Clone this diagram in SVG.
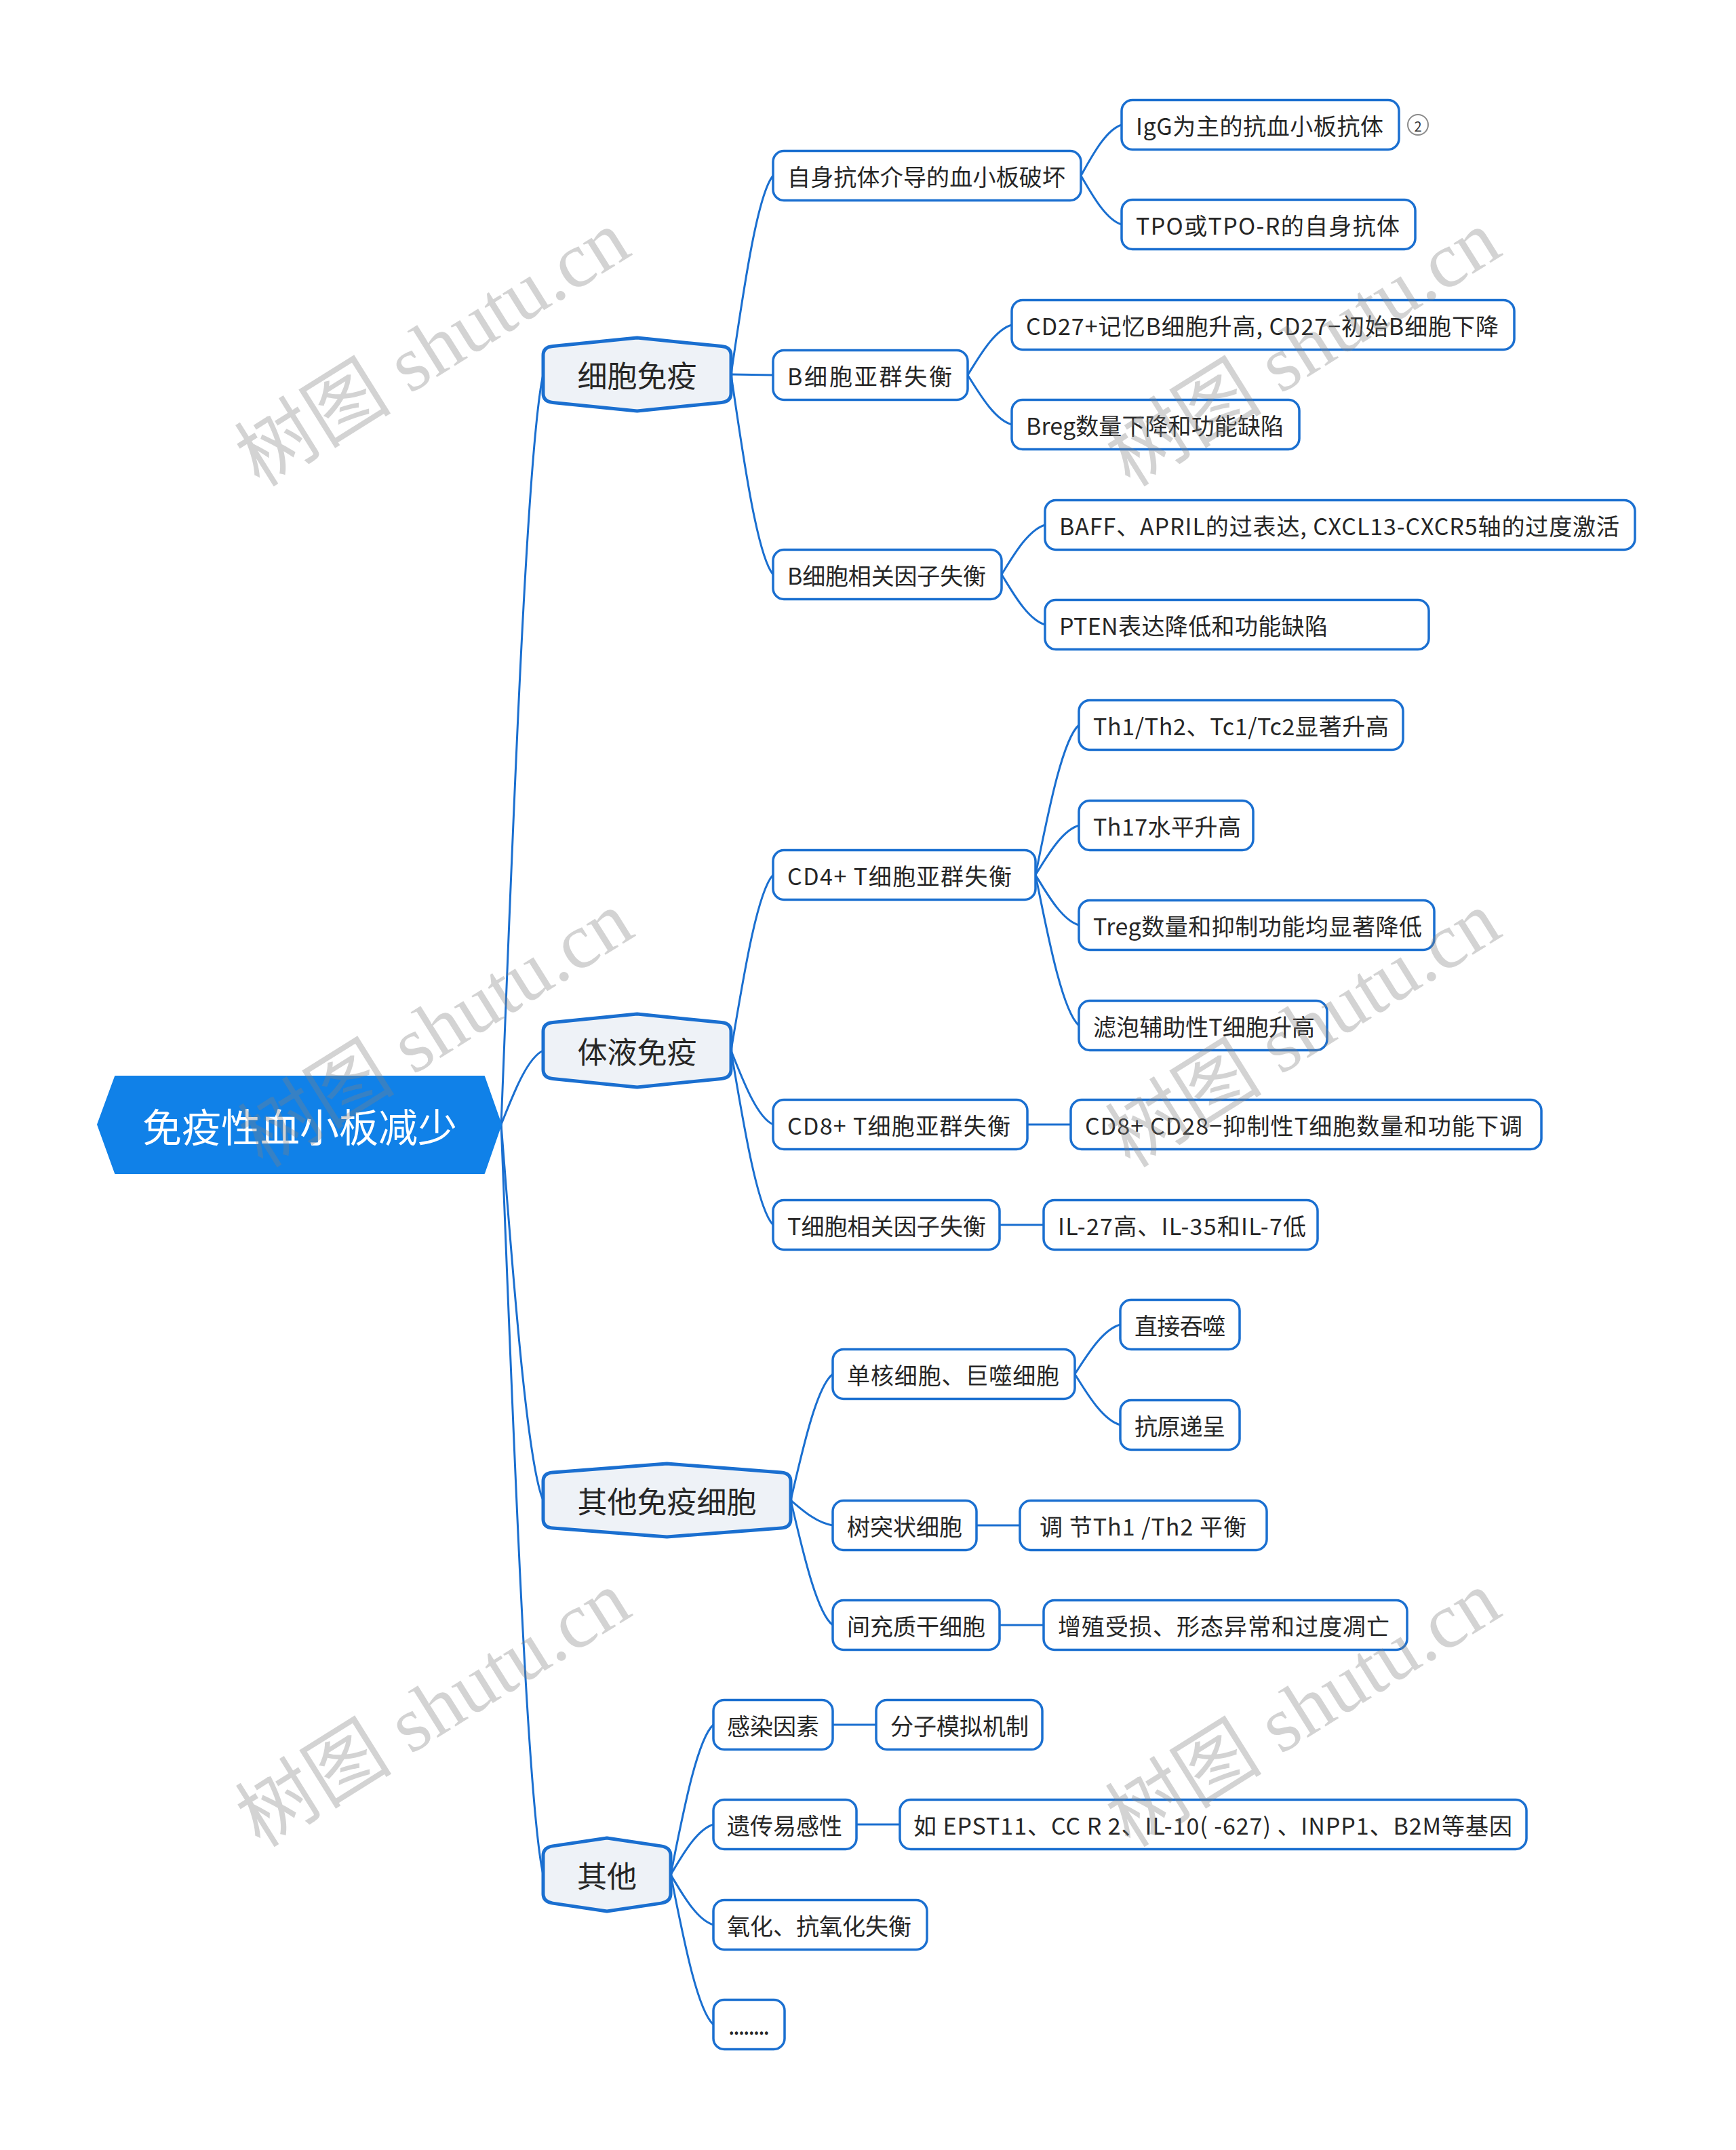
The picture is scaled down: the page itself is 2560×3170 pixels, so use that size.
<svg xmlns="http://www.w3.org/2000/svg" width="2560" height="3170" viewBox="0 0 2560 3170">
<style>
.bg{fill:#ffffff}
.ln{fill:none;stroke:#1a6fd0;stroke-width:3;stroke-linecap:round}
.root{fill:#1081e8;stroke:#1081e8;stroke-width:2;stroke-linejoin:round}
.hex{fill:#eef2f7;stroke:#1a6fd0;stroke-width:5;stroke-linejoin:round}
.box{fill:#ffffff;stroke:#1a6fd0;stroke-width:3.5}
text{font-family:"Noto Sans CJK SC","Noto Sans",sans-serif;dominant-baseline:central}
.t{font-size:34px;fill:#262626}
.t1{font-size:44px;fill:#262626;text-anchor:middle}
.t0{font-size:58px;fill:#ffffff;text-anchor:middle}
.wm{font-family:"Liberation Serif","Noto Sans CJK SC",serif;font-size:116px;fill:#808080;fill-opacity:0.35;text-anchor:middle}
</style>
<rect class="bg" x="0" y="0" width="2560" height="3170"/>
<g id="connectors">
<path class="ln" d="M739,1658 C754.5,1270.9 776.2,662.6 801,552"/>
<path class="ln" d="M739,1658 C754.5,1619.85 776.2,1559.9 801,1549"/>
<path class="ln" d="M739,1658 C754.5,1851.9 776.2,2156.6 801,2212"/>
<path class="ln" d="M739,1658 C754.5,2045.1 776.2,2653.4 801,2764"/>
<path class="ln" d="M1078,552 C1093.5,449.45 1115.2,288.3 1140,259"/>
<path class="ln" d="M1078,552 L1140,553"/>
<path class="ln" d="M1078,552 C1093.5,655.25 1115.2,817.5 1140,847"/>
<path class="ln" d="M1594,259 C1609,232.75 1630,191.5 1654,184"/>
<path class="ln" d="M1594,259 C1609,284.2 1630,323.8 1654,331"/>
<path class="ln" d="M1427,553 C1443.25,527.1 1466,486.4 1492,479"/>
<path class="ln" d="M1427,553 C1443.25,578.55 1466,618.7 1492,626"/>
<path class="ln" d="M1477,847 C1493,821.45 1515.4,781.3 1541,774"/>
<path class="ln" d="M1477,847 C1493,872.9 1515.4,913.6 1541,921"/>
<path class="ln" d="M1078,1549 C1093.5,1458.35 1115.2,1315.9 1140,1290"/>
<path class="ln" d="M1078,1549 C1093.5,1587.15 1115.2,1647.1 1140,1658"/>
<path class="ln" d="M1078,1549 C1093.5,1638.95 1115.2,1780.3 1140,1806"/>
<path class="ln" d="M1527,1290 C1543,1212.65 1565.4,1091.1 1591,1069"/>
<path class="ln" d="M1527,1290 C1543,1264.45 1565.4,1224.3 1591,1217"/>
<path class="ln" d="M1527,1290 C1543,1315.9 1565.4,1356.6 1591,1364"/>
<path class="ln" d="M1527,1290 C1543,1367.7 1565.4,1489.8 1591,1512"/>
<path class="ln" d="M1515,1658 L1579,1658"/>
<path class="ln" d="M1474,1806 L1539,1806"/>
<path class="ln" d="M1166,2212 C1181.5,2146.9 1203.2,2044.6 1228,2026"/>
<path class="ln" d="M1166,2212 C1181.5,2224.95 1203.2,2245.3 1228,2249"/>
<path class="ln" d="M1166,2212 C1181.5,2276.4 1203.2,2377.6 1228,2396"/>
<path class="ln" d="M1585,2026 C1601.75,2000.45 1625.2,1960.3 1652,1953"/>
<path class="ln" d="M1585,2026 C1601.75,2052.25 1625.2,2093.5 1652,2101"/>
<path class="ln" d="M1440,2249 L1504,2249"/>
<path class="ln" d="M1474,2396 L1539,2396"/>
<path class="ln" d="M989,2764 C1004.75,2686.65 1026.8,2565.1 1052,2543"/>
<path class="ln" d="M989,2764 C1004.75,2738.1 1026.8,2697.4 1052,2690"/>
<path class="ln" d="M989,2764 C1004.75,2789.9 1026.8,2830.6 1052,2838"/>
<path class="ln" d="M989,2764 C1004.75,2841.35 1026.8,2962.9 1052,2985"/>
<path class="ln" d="M1228,2543 L1292,2543"/>
<path class="ln" d="M1263,2690 L1327,2690"/>
</g>
<g id="root">
<polygon class="root" points="144,1658 170,1587 714,1587 739,1658 714,1730 170,1730"/>
<text class="t0" x="442" y="1659">免疫性血小板减少</text>
</g>
<g id="n-A">
<path class="hex" d="M801,524 Q801,512 815,510.6 L939.5,498 L1064,510.6 Q1078,512 1078,524 L1078,580 Q1078,592 1064,593.4 L939.5,606 L815,593.4 Q801,592 801,580 Z"/>
<text class="t1" x="939.5" y="552">细胞免疫</text>
</g>
<g id="n-B">
<path class="hex" d="M801,1521 Q801,1509 815,1507.6 L939.5,1495 L1064,1507.6 Q1078,1509 1078,1521 L1078,1577 Q1078,1589 1064,1590.4 L939.5,1603 L815,1590.4 Q801,1589 801,1577 Z"/>
<text class="t1" x="939.5" y="1549">体液免疫</text>
</g>
<g id="n-C">
<path class="hex" d="M801,2184 Q801,2172 815,2170.9 L983.5,2158 L1152,2170.9 Q1166,2172 1166,2184 L1166,2240 Q1166,2252 1152,2253.1 L983.5,2266 L815,2253.1 Q801,2252 801,2240 Z"/>
<text class="t1" x="983.5" y="2212">其他免疫细胞</text>
</g>
<g id="n-D">
<path class="hex" d="M801,2736 Q801,2724 815,2721.9 L895,2710 L975,2721.9 Q989,2724 989,2736 L989,2792 Q989,2804 975,2806.1 L895,2818 L815,2806.1 Q801,2804 801,2792 Z"/>
<text class="t1" x="895" y="2764">其他</text>
</g>
<g id="n-a1"><rect class="box" x="1140" y="222.5" width="454" height="73" rx="16"/><text class="t" x="1161" y="259" textLength="410" lengthAdjust="spacing">自身抗体介导的血小板破坏</text></g>
<g id="n-a1a"><rect class="box" x="1654" y="147.5" width="409" height="73" rx="16"/><text class="t" x="1675" y="184" textLength="365" lengthAdjust="spacing">IgG为主的抗血小板抗体</text></g>
<g id="n-a1a-badge"><circle cx="2091" cy="184" r="15" fill="#ffffff" stroke="#8a8a8a" stroke-width="2"/><text x="2091" y="185" font-size="20" fill="#333333" text-anchor="middle">2</text></g>
<g id="n-a1b"><rect class="box" x="1654" y="294.5" width="433" height="73" rx="16"/><text class="t" x="1675" y="331" textLength="389" lengthAdjust="spacing">TPO或TPO-R的自身抗体</text></g>
<g id="n-a2"><rect class="box" x="1140" y="516.5" width="287" height="73" rx="16"/><text class="t" x="1161" y="553" textLength="243" lengthAdjust="spacing">B细胞亚群失衡</text></g>
<g id="n-a2a"><rect class="box" x="1492" y="442.5" width="741" height="73" rx="16"/><text class="t" x="1513" y="479" textLength="697" lengthAdjust="spacing">CD27+记忆B细胞升高, CD27−初始B细胞下降</text></g>
<g id="n-a2b"><rect class="box" x="1492" y="589.5" width="424" height="73" rx="16"/><text class="t" x="1513" y="626" textLength="380" lengthAdjust="spacing">Breg数量下降和功能缺陷</text></g>
<g id="n-a3"><rect class="box" x="1140" y="810.5" width="337" height="73" rx="16"/><text class="t" x="1161" y="847" textLength="293" lengthAdjust="spacing">B细胞相关因子失衡</text></g>
<g id="n-a3a"><rect class="box" x="1541" y="737.5" width="870" height="73" rx="16"/><text class="t" x="1562" y="774" textLength="826" lengthAdjust="spacing">BAFF、APRIL的过表达, CXCL13-CXCR5轴的过度激活</text></g>
<g id="n-a3b"><rect class="box" x="1541" y="884.5" width="566" height="73" rx="16"/><text class="t" x="1562" y="921" textLength="396" lengthAdjust="spacing">PTEN表达降低和功能缺陷</text></g>
<g id="n-b1"><rect class="box" x="1140" y="1253.5" width="387" height="73" rx="16"/><text class="t" x="1161" y="1290" textLength="331" lengthAdjust="spacing">CD4+ T细胞亚群失衡</text></g>
<g id="n-b1a"><rect class="box" x="1591" y="1032.5" width="478" height="73" rx="16"/><text class="t" x="1612" y="1069" textLength="436" lengthAdjust="spacing">Th1/Th2、Tc1/Tc2显著升高</text></g>
<g id="n-b1b"><rect class="box" x="1591" y="1180.5" width="257" height="73" rx="16"/><text class="t" x="1612" y="1217" textLength="218" lengthAdjust="spacing">Th17水平升高</text></g>
<g id="n-b1c"><rect class="box" x="1591" y="1327.5" width="524" height="73" rx="16"/><text class="t" x="1612" y="1364" textLength="485" lengthAdjust="spacing">Treg数量和抑制功能均显著降低</text></g>
<g id="n-b1d"><rect class="box" x="1591" y="1475.5" width="366" height="73" rx="16"/><text class="t" x="1612" y="1512" textLength="327" lengthAdjust="spacing">滤泡辅助性T细胞升高</text></g>
<g id="n-b2"><rect class="box" x="1140" y="1621.5" width="375" height="73" rx="16"/><text class="t" x="1161" y="1658" textLength="329" lengthAdjust="spacing">CD8+ T细胞亚群失衡</text></g>
<g id="n-b2a"><rect class="box" x="1579" y="1621.5" width="694" height="73" rx="16"/><text class="t" x="1600" y="1658" textLength="645" lengthAdjust="spacing">CD8+ CD28−抑制性T细胞数量和功能下调</text></g>
<g id="n-b3"><rect class="box" x="1140" y="1769.5" width="334" height="73" rx="16"/><text class="t" x="1161" y="1806" textLength="293" lengthAdjust="spacing">T细胞相关因子失衡</text></g>
<g id="n-b3a"><rect class="box" x="1539" y="1769.5" width="404" height="73" rx="16"/><text class="t" x="1560" y="1806" textLength="366" lengthAdjust="spacing">IL-27高、IL-35和IL-7低</text></g>
<g id="n-c1"><rect class="box" x="1228" y="1989.5" width="357" height="73" rx="16"/><text class="t" x="1249" y="2026" textLength="313" lengthAdjust="spacing">单核细胞、巨噬细胞</text></g>
<g id="n-c1a"><rect class="box" x="1652" y="1916.5" width="176" height="73" rx="16"/><text class="t" x="1673" y="1953" textLength="134" lengthAdjust="spacing">直接吞噬</text></g>
<g id="n-c1b"><rect class="box" x="1652" y="2064.5" width="176" height="73" rx="16"/><text class="t" x="1673" y="2101" textLength="134" lengthAdjust="spacing">抗原递呈</text></g>
<g id="n-c2"><rect class="box" x="1228" y="2212.5" width="212" height="73" rx="16"/><text class="t" x="1249" y="2249" textLength="170" lengthAdjust="spacing">树突状细胞</text></g>
<g id="n-c2a"><rect class="box" x="1504" y="2212.5" width="364" height="73" rx="16"/><text class="t" x="1533" y="2249" textLength="305" lengthAdjust="spacing">调 节Th1 /Th2 平衡</text></g>
<g id="n-c3"><rect class="box" x="1228" y="2359.5" width="246" height="73" rx="16"/><text class="t" x="1249" y="2396" textLength="204" lengthAdjust="spacing">间充质干细胞</text></g>
<g id="n-c3a"><rect class="box" x="1539" y="2359.5" width="536" height="73" rx="16"/><text class="t" x="1560" y="2396" textLength="489" lengthAdjust="spacing">增殖受损、形态异常和过度凋亡</text></g>
<g id="n-d1"><rect class="box" x="1052" y="2506.5" width="176" height="73" rx="16"/><text class="t" x="1072" y="2543" textLength="136" lengthAdjust="spacing">感染因素</text></g>
<g id="n-d1a"><rect class="box" x="1292" y="2506.5" width="245" height="73" rx="16"/><text class="t" x="1313" y="2543" textLength="204" lengthAdjust="spacing">分子模拟机制</text></g>
<g id="n-d2"><rect class="box" x="1052" y="2653.5" width="211" height="73" rx="16"/><text class="t" x="1072" y="2690" textLength="170" lengthAdjust="spacing">遗传易感性</text></g>
<g id="n-d2a"><rect class="box" x="1327" y="2653.5" width="924" height="73" rx="16"/><text class="t" x="1347" y="2690" textLength="883" lengthAdjust="spacing">如 EPST11、CC R 2、IL-10( -627) 、INPP1、B2M等基因</text></g>
<g id="n-d3"><rect class="box" x="1052" y="2801.5" width="315" height="73" rx="16"/><text class="t" x="1072" y="2838" textLength="272" lengthAdjust="spacing">氧化、抗氧化失衡</text></g>
<g id="n-d4"><rect class="box" x="1052" y="2948.5" width="105" height="73" rx="16"/><text class="t" x="1074" y="2985" textLength="61" lengthAdjust="spacing">........</text></g>
<g id="watermarks">
<text class="wm" transform="translate(638,514) rotate(-32)">树图 shutu.cn</text>
<text class="wm" transform="translate(1922,514) rotate(-32)">树图 shutu.cn</text>
<text class="wm" transform="translate(643,1518) rotate(-32)">树图 shutu.cn</text>
<text class="wm" transform="translate(1922,1518) rotate(-32)">树图 shutu.cn</text>
<text class="wm" transform="translate(639,2520) rotate(-32)">树图 shutu.cn</text>
<text class="wm" transform="translate(1922,2520) rotate(-32)">树图 shutu.cn</text>
</g>
</svg>
